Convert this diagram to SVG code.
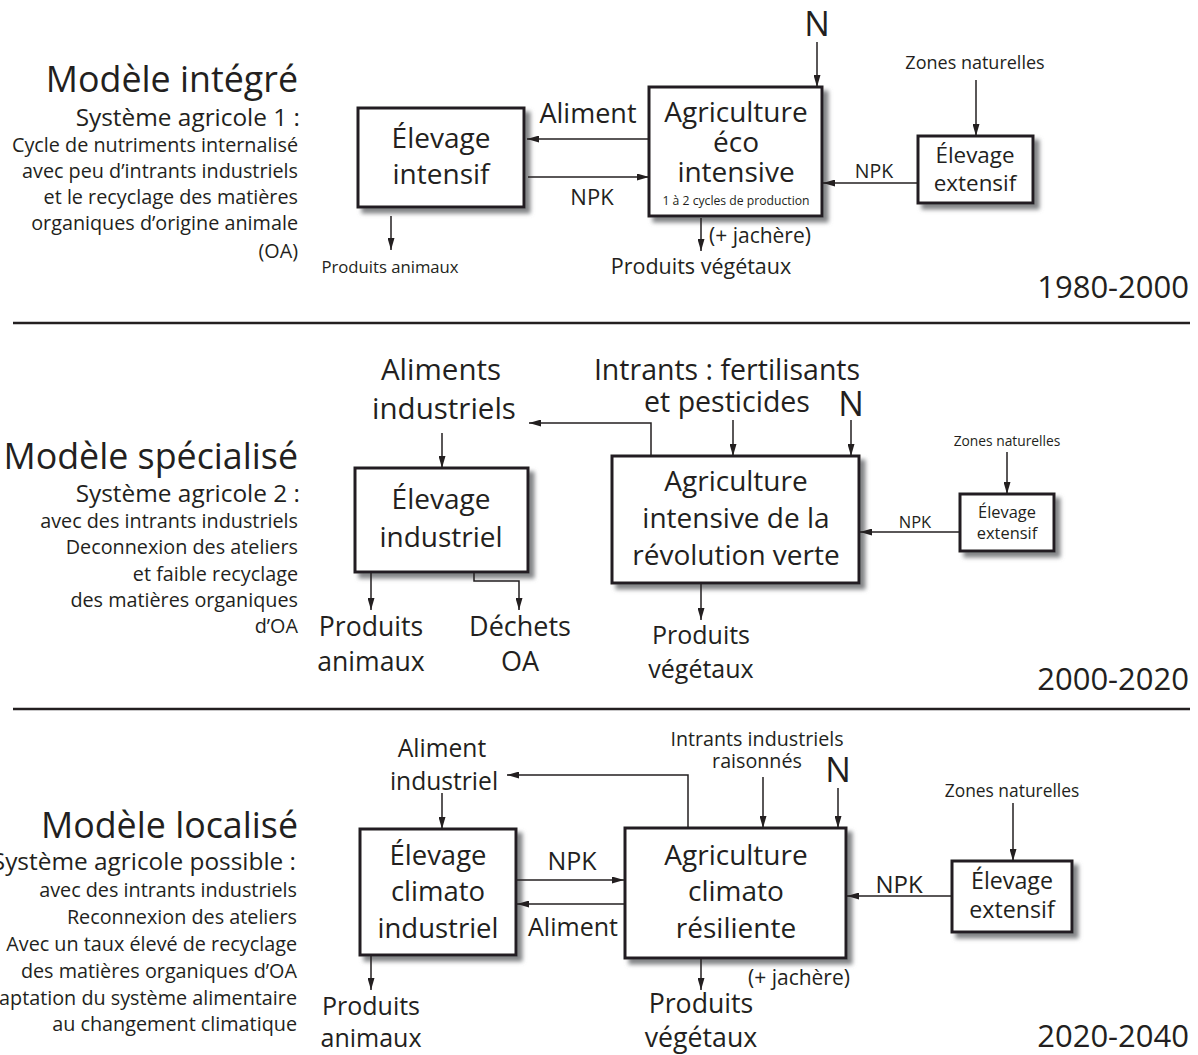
<svg xmlns="http://www.w3.org/2000/svg" width="1198" height="1055" viewBox="0 0 1198 1055">
  <style>
    text { font-family: "Open Sans", "Noto Sans", "DejaVu Sans", sans-serif; fill: #231f20; }
    .c { text-anchor: middle; }
    .r { text-anchor: end; }
    .title { font-size: 35.8px; }
    .sub { font-size: 24.4px; }
    .note { font-size: 19.8px; }
    .year { font-size: 31px; }
    .big { font-size: 28px; }
    .n { font-size: 34px; }
    .box { fill: #ffffff; stroke: #231f20; stroke-width: 3; filter: url(#shadow); }
    .link { fill: none; stroke: #231f20; stroke-width: 1.5; }
    .arrow { marker-end: url(#head); }
    .sep { stroke: #231f20; stroke-width: 2.5; }
  </style>
  <defs>
    <filter id="shadow" x="-10%" y="-10%" width="130%" height="130%">
      <feDropShadow dx="5" dy="5" stdDeviation="2.2" flood-color="#6d6e71" flood-opacity="0.85"/>
    </filter>
    <marker id="head" markerUnits="userSpaceOnUse" markerWidth="12" markerHeight="7" refX="12" refY="3.5" orient="auto">
      <path d="M0,0 L12,3.5 L0,7 z" fill="#231f20"/>
    </marker>
  </defs>

  <rect width="1198" height="1055" fill="#ffffff"/>

  <!-- section separators -->
  <line class="sep" x1="13" y1="323" x2="1190" y2="323"/>
  <line class="sep" x1="13" y1="709" x2="1190" y2="709"/>

  <!-- ===== 1980-2000 : integrated model ===== -->
  <g id="legend-integre">
    <text class="r title" x="298" y="92">Modèle intégré</text>
    <text class="r sub" x="300" y="126">Système agricole 1 :</text>
    <text class="r note" x="298" y="152">Cycle de nutriments internalisé</text>
    <text class="r note" x="298" y="178">avec peu d’intrants industriels</text>
    <text class="r note" x="298" y="204">et le recyclage des matières</text>
    <text class="r note" x="298" y="230">organiques d’origine animale</text>
    <text class="r note" x="298" y="258">(OA)</text>
    <text class="r year" x="1189" y="298">1980-2000</text>
  </g>

  <g id="elevage-intensif">
    <rect class="box" x="358" y="108" width="166" height="99"/>
    <text class="c big" x="441" y="148">Élevage</text>
    <text class="c big" x="441" y="184">intensif</text>
  </g>

  <g id="agri-eco-intensive">
    <rect class="box" x="649" y="87" width="173" height="129"/>
    <text class="c big" x="736" y="122">Agriculture</text>
    <text class="c big" x="736" y="152">éco</text>
    <text class="c big" x="736" y="182">intensive</text>
    <text class="c" x="736" y="205" font-size="12.2">1 à 2 cycles de production</text>
  </g>

  <g id="elevage-extensif-1">
    <rect class="box" x="918" y="136" width="115" height="67"/>
    <text class="c" x="975" y="163" font-size="22.4">Élevage</text>
    <text class="c" x="975" y="191" font-size="22.4">extensif</text>
  </g>

  <g id="labels-1">
    <text class="c n" x="817" y="36">N</text>
    <text class="c" x="975" y="69" font-size="18">Zones naturelles</text>
    <text class="c" x="588" y="123" font-size="27">Aliment</text>
    <text class="c" x="592" y="205" font-size="22">NPK</text>
    <text class="c" x="874" y="178" font-size="19.5">NPK</text>
    <text class="c" x="390" y="273" font-size="16.7">Produits animaux</text>
    <text x="709" y="243" font-size="21">(+ jachère)</text>
    <text class="c" x="701" y="274" font-size="21.5">Produits végétaux</text>
  </g>

  <g id="connectors-1">
    <line class="link arrow" x1="817" y1="42" x2="817" y2="87"/>
    <line class="link arrow" x1="976" y1="80" x2="976" y2="136"/>
    <line class="link arrow" x1="649" y1="139" x2="527" y2="139"/>
    <line class="link arrow" x1="528" y1="177" x2="649" y2="177"/>
    <line class="link arrow" x1="918" y1="183" x2="823" y2="183"/>
    <line class="link arrow" x1="391" y1="216" x2="391" y2="250"/>
    <line class="link arrow" x1="701" y1="218" x2="701" y2="251"/>
  </g>

  <!-- ===== 2000-2020 : specialised model ===== -->
  <g id="legend-specialise">
    <text class="r title" x="298" y="469">Modèle spécialisé</text>
    <text class="r sub" x="300" y="502">Système agricole 2 :</text>
    <text class="r note" x="298" y="528">avec des intrants industriels</text>
    <text class="r note" x="298" y="554">Deconnexion des ateliers</text>
    <text class="r note" x="298" y="581">et faible recyclage </text>
    <text class="r note" x="298" y="607">des matières organiques</text>
    <text class="r note" x="298" y="633">d’OA</text>
    <text class="r year" x="1189" y="690">2000-2020</text>
  </g>

  <g id="elevage-industriel">
    <rect class="box" x="355" y="468" width="173" height="104"/>
    <text class="c big" x="441" y="509">Élevage</text>
    <text class="c big" x="441" y="547">industriel</text>
  </g>

  <g id="agri-revolution-verte">
    <rect class="box" x="612" y="456" width="247" height="127"/>
    <text class="c big" x="736" y="491">Agriculture</text>
    <text class="c big" x="736" y="528">intensive de la</text>
    <text class="c big" x="736" y="565">révolution verte</text>
  </g>

  <g id="elevage-extensif-2">
    <rect class="box" x="960" y="494" width="94" height="57"/>
    <text class="c" x="1007" y="518" font-size="16.4">Élevage</text>
    <text class="c" x="1007" y="539" font-size="16.4">extensif</text>
  </g>

  <g id="labels-2">
    <text class="c" x="441" y="380" font-size="29.5">Aliments</text>
    <text class="c" x="444" y="419" font-size="29.5">industriels</text>
    <text class="c" x="727" y="380" font-size="28.5">Intrants : fertilisants</text>
    <text class="c" x="727" y="412" font-size="28.5">et pesticides</text>
    <text class="c n" x="851" y="416">N</text>
    <text class="c" x="1007" y="446" font-size="13.8">Zones naturelles</text>
    <text class="c" x="915" y="528" font-size="16.5">NPK</text>
    <text class="c" x="371" y="636" font-size="26.6">Produits</text>
    <text class="c" x="371" y="671" font-size="26.6">animaux</text>
    <text class="c" x="520" y="636" font-size="27">Déchets</text>
    <text class="c" x="520" y="671" font-size="27">OA</text>
    <text class="c" x="701" y="644" font-size="25">Produits</text>
    <text class="c" x="701" y="678" font-size="25">végétaux</text>
  </g>

  <g id="connectors-2">
    <polyline class="link arrow" points="651,456 651,423 529,423"/>
    <line class="link arrow" x1="442" y1="433" x2="442" y2="468"/>
    <line class="link arrow" x1="733" y1="420" x2="733" y2="456"/>
    <line class="link arrow" x1="851" y1="420" x2="851" y2="456"/>
    <line class="link arrow" x1="1007" y1="452" x2="1007" y2="494"/>
    <line class="link arrow" x1="960" y1="532" x2="860" y2="532"/>
    <line class="link arrow" x1="371" y1="573" x2="371" y2="610"/>
    <polyline class="link arrow" points="474,573 474,581 519,581 519,610"/>
    <line class="link arrow" x1="701" y1="584" x2="701" y2="620"/>
  </g>

  <!-- ===== 2020-2040 : localised model ===== -->
  <g id="legend-localise">
    <text class="r title" x="298" y="838">Modèle localisé</text>
    <text class="r sub" x="296" y="870">Système agricole possible :</text>
    <text class="r note" x="297" y="897">avec des intrants industriels</text>
    <text class="r note" x="297" y="924">Reconnexion des ateliers</text>
    <text class="r note" x="297" y="951">Avec un taux élevé de recyclage</text>
    <text class="r note" x="297" y="978">des matières organiques d’OA</text>
    <text class="r note" x="297" y="1005">Adaptation du système alimentaire</text>
    <text class="r note" x="297" y="1031">au changement climatique </text>
    <text class="r year" x="1189" y="1047">2020-2040</text>
  </g>

  <g id="elevage-climato-industriel">
    <rect class="box" x="360" y="829" width="156" height="126"/>
    <text class="c" x="438" y="865" font-size="27.5">Élevage</text>
    <text class="c" x="438" y="901" font-size="27.5">climato</text>
    <text class="c" x="438" y="938" font-size="27.5">industriel</text>
  </g>

  <g id="agri-climato-resiliente">
    <rect class="box" x="625" y="828" width="221" height="130"/>
    <text class="c big" x="736" y="865">Agriculture</text>
    <text class="c big" x="736" y="901">climato</text>
    <text class="c big" x="736" y="938">résiliente</text>
  </g>

  <g id="elevage-extensif-3">
    <rect class="box" x="952" y="861" width="120" height="71"/>
    <text class="c" x="1012" y="889" font-size="23.2">Élevage</text>
    <text class="c" x="1012" y="918" font-size="23.2">extensif</text>
  </g>

  <g id="labels-3">
    <text class="c" x="442" y="757" font-size="24.6">Aliment</text>
    <text class="c" x="444" y="790" font-size="24.6">industriel</text>
    <text class="c" x="757" y="746" font-size="19.7">Intrants industriels</text>
    <text class="c" x="757" y="768" font-size="19.7">raisonnés</text>
    <text class="c n" x="838" y="782">N</text>
    <text class="c" x="1012" y="797" font-size="17.4">Zones naturelles</text>
    <text class="c" x="572" y="870" font-size="25">NPK</text>
    <text class="c" x="573" y="936" font-size="25">Aliment</text>
    <text class="c" x="899" y="893" font-size="24">NPK</text>
    <text x="748" y="985" font-size="21">(+ jachère)</text>
    <text class="c" x="371" y="1015" font-size="25">Produits</text>
    <text class="c" x="371" y="1047" font-size="25">animaux</text>
    <text class="c" x="701" y="1013" font-size="26.7">Produits</text>
    <text class="c" x="701" y="1047" font-size="26.7">végétaux</text>
  </g>

  <g id="connectors-3">
    <polyline class="link arrow" points="688,828 688,775 507,775"/>
    <line class="link arrow" x1="442" y1="793" x2="442" y2="829"/>
    <line class="link arrow" x1="763" y1="777" x2="763" y2="828"/>
    <line class="link arrow" x1="838" y1="788" x2="838" y2="828"/>
    <line class="link arrow" x1="1013" y1="803" x2="1013" y2="861"/>
    <line class="link arrow" x1="517" y1="880" x2="624" y2="880"/>
    <line class="link arrow" x1="625" y1="904" x2="517" y2="904"/>
    <line class="link arrow" x1="952" y1="896" x2="847" y2="896"/>
    <line class="link arrow" x1="371" y1="956" x2="371" y2="990"/>
    <line class="link arrow" x1="701" y1="959" x2="701" y2="990"/>
  </g>
</svg>
